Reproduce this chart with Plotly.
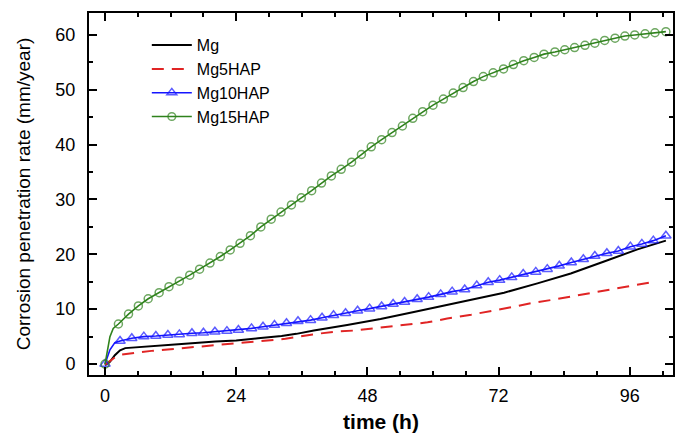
import plotly.graph_objects as go

# ---- data ----
mg_t = [0, 0.9, 1.8, 2.75, 3.7, 7.3, 13.4, 20.2, 24, 28, 32.3, 35, 38.2, 44.3, 50.4, 56.5,
        62.6, 68.7, 73.0, 79.1, 85.2, 91.3, 97.4, 102.6]
mg_v = [-0.2, 0.4, 1.6, 2.5, 2.9, 3.2, 3.6, 4.1, 4.3, 4.7, 5.1, 5.5, 6.1, 7.1, 8.2, 9.5,
        10.8, 12.0, 13.0, 14.7, 16.5, 18.7, 20.9, 22.5]

mg5_t = [0, 0.9, 1.8, 3.0, 5.0, 8.5, 12, 16.5, 20, 24, 28, 33, 38, 42, 45.5, 50, 54, 59,
         62.6, 67, 74, 78, 82.4, 86.7, 91.3, 95.3, 100]
mg5_v = [-0.1, 0.55, 1.2, 1.7, 2.0, 2.4, 2.7, 3.1, 3.4, 3.7, 4.1, 4.6, 5.4, 5.9, 6.1, 6.6,
         7.1, 7.6, 8.3, 9.0, 10.3, 11.1, 11.8, 12.6, 13.4, 14.1, 14.9]

mg10_t = [0, 0.9, 1.8, 2.75, 4.9, 7.1, 9.3, 11.5, 13.6, 15.9, 18.0, 20.1, 22.3, 24.4, 26.8,
          28.9, 31.0, 33.2, 35.3, 37.6, 39.7, 41.8, 44.0, 46.2, 48.4, 50.6, 52.7, 54.8,
          57.1, 59.2, 61.4, 63.5, 65.8, 68.0, 70.1, 72.2, 74.4, 76.5, 78.8, 80.9, 83.1,
          85.3, 87.5, 89.6, 91.8, 93.9, 96.1, 98.2, 100.3, 102.6]
mg10_v = [0, 2.6, 3.9, 4.2, 4.7, 5.0, 5.1, 5.3, 5.4, 5.6, 5.7, 5.9, 6.0, 6.2, 6.5,
          6.8, 7.1, 7.45, 7.8, 8.0, 8.45, 8.9, 9.25, 9.7, 10.1, 10.5, 10.95, 11.3,
          11.8, 12.2, 12.7, 13.2, 13.6, 14.3, 14.9, 15.3, 15.8, 16.4, 16.8, 17.3, 17.9,
          18.5, 19.1, 19.7, 20.2, 20.6, 21.4, 21.9, 22.5, 23.4]

mg15_t = [0, 0.9, 1.5, 2.45, 4.3, 6.1, 7.9, 9.9, 11.7, 13.6, 15.5, 17.3, 19.2, 21.1, 22.9,
          24.7, 26.6, 28.5, 30.4, 32.2, 34.1, 35.9, 37.8, 39.6, 41.4, 43.2, 45.1, 46.9,
          48.7, 50.6, 52.5, 54.4, 56.3, 58.1, 60.0, 61.9, 63.7, 65.5, 67.4, 69.2, 71.0,
          72.9, 74.7, 76.6, 78.5, 80.3, 82.3, 84.1, 85.9, 87.8, 89.6, 91.4, 93.3, 95.1,
          96.9, 98.8, 100.6, 102.6]
mg15_v = [0, 5.0, 6.5, 7.3, 9.1, 10.6, 11.9, 13.0, 14.1, 15.1, 16.2, 17.3, 18.4, 19.6, 20.8,
          22.0, 23.4, 25.0, 26.4, 27.7, 29.0, 30.3, 31.6, 33.0, 34.3, 35.5, 36.8, 38.2,
          39.6, 40.9, 42.2, 43.4, 44.8, 46.0, 47.2, 48.3, 49.4, 50.4, 51.5, 52.4, 53.1,
          53.8, 54.6, 55.3, 55.9, 56.5, 56.9, 57.3, 57.7, 58.1, 58.5, 59.0, 59.4, 59.8,
          60.0, 60.2, 60.4, 60.6]

x_ticks = [0, 24, 48, 72, 96]
y_ticks = [0, 10, 20, 30, 40, 50, 60]

FONT = "Liberation Sans, Arial, sans-serif"


def marker_sizes(ts, size):
    # early rise samples in the reference carry no symbol
    return [0 if 0 < t < 2.4 else size for t in ts]


fig = go.Figure()
fig.add_trace(go.Scatter(x=mg_t, y=mg_v, mode="lines", name="Mg",
                         line=dict(color="black", width=2)))
fig.add_trace(go.Scatter(x=mg5_t, y=mg5_v, mode="lines", name="Mg5HAP",
                         line=dict(color="#e02424", width=2, dash="12px,8px")))
fig.add_trace(go.Scatter(x=mg10_t, y=mg10_v, mode="lines+markers", name="Mg10HAP",
                         line=dict(color="#1515ff", width=1.6),
                         marker=dict(symbol="triangle-up-open", size=marker_sizes(mg10_t, 9),
                                     color="#1515ff", line=dict(width=1.5, color="#1515ff"))))
fig.add_trace(go.Scatter(x=mg15_t, y=mg15_v, mode="lines+markers", name="Mg15HAP",
                         line=dict(color="#2f821c", width=1.6),
                         marker=dict(symbol="circle-open", size=marker_sizes(mg15_t, 8),
                                     color="#2f821c", line=dict(width=1.5, color="#2f821c"))))

axis_common = dict(showline=True, linecolor="black", linewidth=2, mirror="ticks",
                   ticks="inside", ticklen=8, tickwidth=2, tickcolor="black",
                   showgrid=False, zeroline=False, automargin=False,
                   tickfont=dict(family=FONT, size=18, color="black"))

fig.update_xaxes(range=[-2.93, 103.9], tickvals=x_ticks, ticktext=[str(v) for v in x_ticks],
                 ticklabelstandoff=3,
                 minor=dict(dtick=6, tick0=0, ticks="inside", ticklen=4, tickwidth=1.5,
                            tickcolor="black", showgrid=False),
                 title=dict(text="<b>time (h)</b>", font=dict(family=FONT, size=21, color="black"),
                            standoff=14),
                 **axis_common)
fig.update_yaxes(range=[-2.0, 64.0], tickvals=y_ticks, ticktext=[str(v) for v in y_ticks],
                 ticklabelstandoff=8,
                 minor=dict(dtick=5, tick0=0, ticks="inside", ticklen=4, tickwidth=1.5,
                            tickcolor="black", showgrid=False),
                 title=dict(text="Corrosion penetration rate (mm/year)",
                            font=dict(family=FONT, size=19, color="black"), standoff=20),
                 **axis_common)

fig.update_layout(
    width=681, height=433,
    margin=dict(l=89, r=8, t=13, b=58),
    paper_bgcolor="white", plot_bgcolor="white",
    font=dict(family=FONT, color="black"),
    legend=dict(x=0.099, y=0.958, xanchor="left", yanchor="top",
                bgcolor="rgba(0,0,0,0)", borderwidth=0,
                font=dict(family=FONT, size=16, color="black"),
                itemwidth=40, tracegroupgap=0),
)

fig.write_html("out.html", config={"displayModeBar": False},
               post_script="document.body.style.margin='0';document.body.style.overflow='hidden';")
